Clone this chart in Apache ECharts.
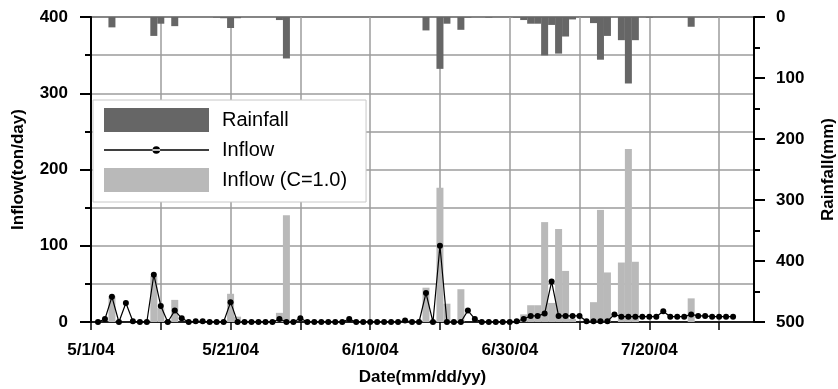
<!DOCTYPE html>
<html>
<head>
<meta charset="utf-8">
<script src="https://cdn.jsdelivr.net/npm/echarts@6/dist/echarts.min.js"></script>
<style>
  html, body { margin: 0; padding: 0; background: #fff; }
  #chart { width: 838px; height: 389px; }
</style>
</head>
<body>
<div id="chart"></div>
<script>
// day 0 = 5/1/04, first daily value is day 1 (5/2/04)
const startDate = [2004, 4, 1];
const firstDay = 1;

// inflow (ton/day), daily
const inflow = [
  0, 4, 33, 0, 25, 1, 0, 0, 62, 21,
  0, 15, 5, 0, 1, 1, 0, 0, 0, 26,
  0, 0, 0, 0, 0, 0, 4, 0, 0, 5,
  0, 0, 0, 0, 0, 0, 4, 0, 0, 0,
  0, 0, 0, 0, 2, 0, 0, 38, 0, 100,
  0, 0, 0, 15, 4, 0, 0, 0, 0, 0,
  1, 4, 8, 8, 11, 53, 8, 8, 8, 8,
  1, 1, 1, 1, 10, 7, 7, 7, 7, 7,
  7, 14, 7, 7, 7, 10, 8, 8, 7, 7,
  7, 7,
];

// inflow with C=1.0 (ton/day), daily
const inflowC = [
  0, 0, 34, 0, 0, 0, 0, 0, 60, 18,
  0, 29, 0, 0, 0, 0, 0, 0, 0, 37,
  7, 0, 0, 0, 0, 0, 12, 140, 0, 0,
  0, 0, 0, 0, 0, 0, 0, 0, 0, 0,
  0, 0, 0, 0, 0, 0, 0, 45, 0, 176,
  24, 0, 43, 0, 0, 0, 0, 0, 0, 0,
  0, 10, 22, 22, 131, 25, 122, 67, 4, 0,
  0, 26, 147, 65, 0, 78, 227, 79, 0, 0,
  0, 0, 0, 0, 0, 31, 0, 0, 0, 0,
  0, 0,
];

// rainfall (mm), daily
const rainfall = [
  0, 0, 17, 0, 0, 0, 0, 0, 31, 11,
  0, 15, 0, 0, 0, 0, 0, 1, 2, 18,
  2, 0, 0, 0, 0, 0, 5, 68, 0, 0,
  0, 0, 0, 0, 0, 0, 0, 0, 0, 0,
  0, 0, 0, 0, 0, 0, 0, 22, 0, 85,
  11, 0, 21, 1, 0, 0, 1, 0, 0, 0,
  1, 5, 11, 11, 63, 13, 60, 32, 4, 0,
  0, 10, 70, 31, 0, 38, 109, 38, 0, 1,
  0, 0, 0, 0, 0, 16, 0, 0, 0, 0,
  0, 0,
];

const legendNames = ['Rainfall', 'Inflow', 'Inflow (C=1.0)'];

const FONT = "'Liberation Sans', Arial, sans-serif";
const GRID_LINE = { color: '#9c9c9c', width: 1.5 };

function dateLabel(v) {
  const d = new Date(startDate[0], startDate[1], startDate[2] + v);
  return (d.getMonth() + 1) + '/' + d.getDate() + '/' + String(d.getFullYear()).slice(2);
}

const pair = (arr) => arr.map((v, i) => [firstDay + i, v]);

const chart = echarts.init(document.getElementById('chart'));

chart.setOption({
  animation: false,
  grid: {
    left: 91, right: 84, top: 17, bottom: 67,
    outerBoundsMode: 'none',
    containLabel: false,
    show: true, borderColor: '#000', borderWidth: 1.5,
  },
  legend: {
    orient: 'vertical',
    left: 93, top: 100,
    padding: [8, 19, 10, 11],
    itemWidth: 105, itemHeight: 24, itemGap: 6,
    backgroundColor: '#fff', borderColor: '#c8c8c8', borderWidth: 1,
    textStyle: { fontFamily: FONT, fontSize: 20, color: '#000', padding: [0, 0, 0, 8] },
    data: [
      { name: legendNames[0], icon: 'rect' },
      { name: legendNames[1], icon: 'path://M0,0M105,24M0,11.2H105V12.8H0Z M48.5,12a3.8,3.8 0 1,0 7.6,0a3.8,3.8 0 1,0 -7.6,0Z', itemStyle: { color: '#000', borderWidth: 0 } },
      { name: legendNames[2], icon: 'rect' },
    ],
  },
  xAxis: {
    type: 'value',
    min: 0, max: 95, interval: 10,
    name: 'Date(mm/dd/yy)',
    nameLocation: 'middle', nameGap: 47,
    nameTextStyle: { fontFamily: FONT, fontSize: 17, fontWeight: 'bold', color: '#000' },
    axisLine: { lineStyle: { color: '#000', width: 1.5 } },
    axisTick: { length: 8, lineStyle: { color: '#000', width: 1.5 } },
    axisLabel: {
      margin: 20, fontFamily: FONT, fontSize: 17, fontWeight: 'bold', color: '#000',
      showMaxLabel: false,
      formatter: (v) => (v % 20 === 0 ? dateLabel(v) : ''),
    },
    splitLine: { show: true, lineStyle: GRID_LINE },
  },
  yAxis: [
    {
      type: 'value',
      min: 0, max: 400, interval: 100,
      name: 'Inflow(ton/day)',
      nameLocation: 'middle', nameGap: 64, nameRotate: 90,
      nameTextStyle: { fontFamily: FONT, fontSize: 17, fontWeight: 'bold', color: '#000' },
      axisLine: { show: true, lineStyle: { color: '#000', width: 2 } },
      axisTick: { show: true, length: 11, lineStyle: { color: '#000', width: 2 } },
      minorTick: { show: true, splitNumber: 2, length: 6, lineStyle: { color: '#000', width: 2 } },
      axisLabel: { margin: 23, fontFamily: FONT, fontSize: 17, fontWeight: 'bold', color: '#000' },
      splitLine: { show: true, lineStyle: GRID_LINE },
      minorSplitLine: { show: true, lineStyle: GRID_LINE },
    },
    {
      type: 'value',
      position: 'right',
      inverse: true,
      min: 0, max: 500, interval: 100,
      name: 'Rainfall(mm)',
      nameLocation: 'middle', nameGap: 66, nameRotate: 90,
      nameTextStyle: { fontFamily: FONT, fontSize: 17, fontWeight: 'bold', color: '#000' },
      axisLine: { show: true, lineStyle: { color: '#000', width: 2 } },
      axisTick: { show: true, length: 11, lineStyle: { color: '#000', width: 2 } },
      minorTick: { show: true, splitNumber: 2, length: 6, lineStyle: { color: '#000', width: 2 } },
      axisLabel: { margin: 22, fontFamily: FONT, fontSize: 17, fontWeight: 'bold', color: '#000' },
      splitLine: { show: false },
    },
  ],
  series: [
    {
      name: legendNames[0],
      type: 'bar',
      yAxisIndex: 1,
      data: pair(rainfall),
      barWidth: 7,
      barGap: '-100%',
      itemStyle: { color: '#666666' },
      z: 3,
    },
    {
      name: legendNames[2],
      type: 'bar',
      yAxisIndex: 0,
      data: pair(inflowC),
      barWidth: 7,
      barGap: '-100%',
      itemStyle: { color: '#b9b9b9' },
      z: 2,
    },
    {
      name: legendNames[1],
      type: 'line',
      yAxisIndex: 0,
      data: pair(inflow),
      symbol: 'circle',
      symbolSize: 6,
      showAllSymbol: true,
      lineStyle: { color: '#000', width: 1.2 },
      itemStyle: { color: '#000', borderWidth: 0 },
      z: 4,
    },
  ],
});
</script>
</body>
</html>
